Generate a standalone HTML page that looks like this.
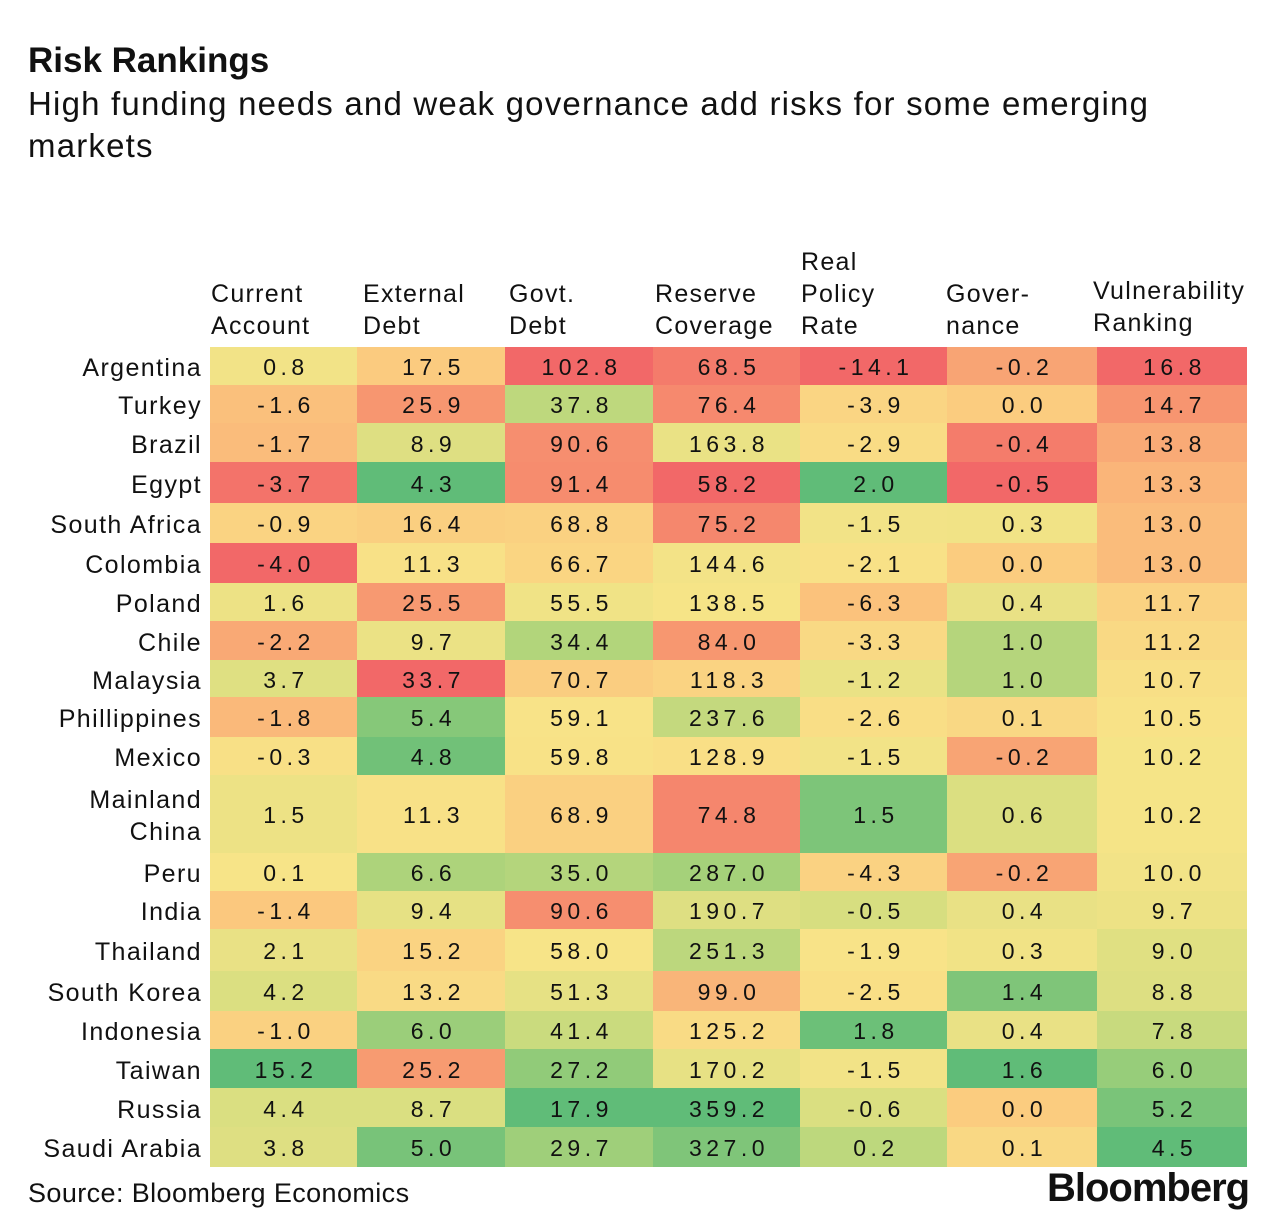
<!DOCTYPE html>
<html><head><meta charset="utf-8"><style>
body{margin:0;background:#fff;width:1279px;height:1228px;position:relative;font-family:"Liberation Sans",sans-serif;color:#111;overflow:hidden}
.t{position:absolute;white-space:nowrap}
.cell{position:absolute;display:flex;align-items:center;justify-content:center;font-size:23px;letter-spacing:4.5px;padding-top:3px;padding-left:5px;box-sizing:border-box}
.rl{position:absolute;right:1077px;text-align:right;font-size:25px;line-height:32px;letter-spacing:1.4px;display:flex;align-items:center;justify-content:flex-end}
.ch{position:absolute;font-size:25px;line-height:32px;letter-spacing:1.3px}
</style></head><body>
<div class="t" style="left:28px;top:41px;font-size:35px;font-weight:bold">Risk Rankings</div>
<div class="t" style="left:28px;top:83px;font-size:33px;line-height:42px;letter-spacing:1.2px;white-space:normal;width:1170px">High funding needs and weak governance add risks for some emerging markets</div>
<div id="tbl"></div>
<div class="t" style="left:28px;top:1178px;font-size:27px;letter-spacing:0.4px">Source: Bloomberg Economics</div>
<div class="t" style="left:1047px;top:1166px;font-size:40px;font-weight:bold;letter-spacing:-1px">Bloomberg</div>
<script>
const countries=["Argentina","Turkey","Brazil","Egypt","South Africa","Colombia","Poland","Chile","Malaysia","Phillippines","Mexico","Mainland China","Peru","India","Thailand","South Korea","Indonesia","Taiwan","Russia","Saudi Arabia"];
const columns=["Current Account","External Debt","Govt. Debt","Reserve Coverage","Real Policy Rate","Governance","Vulnerability Ranking"];
const currentAccount=[0.8,-1.6,-1.7,-3.7,-0.9,-4.0,1.6,-2.2,3.7,-1.8,-0.3,1.5,0.1,-1.4,2.1,4.2,-1.0,15.2,4.4,3.8];
const externalDebt=[17.5,25.9,8.9,4.3,16.4,11.3,25.5,9.7,33.7,5.4,4.8,11.3,6.6,9.4,15.2,13.2,6.0,25.2,8.7,5.0];
const govtDebt=[102.8,37.8,90.6,91.4,68.8,66.7,55.5,34.4,70.7,59.1,59.8,68.9,35.0,90.6,58.0,51.3,41.4,27.2,17.9,29.7];
const reserveCoverage=[68.5,76.4,163.8,58.2,75.2,144.6,138.5,84.0,118.3,237.6,128.9,74.8,287.0,190.7,251.3,99.0,125.2,170.2,359.2,327.0];
const realPolicyRate=[-14.1,-3.9,-2.9,2.0,-1.5,-2.1,-6.3,-3.3,-1.2,-2.6,-1.5,1.5,-4.3,-0.5,-1.9,-2.5,1.8,-1.5,-0.6,0.2];
const governance=[-0.2,0.0,-0.4,-0.5,0.3,0.0,0.4,1.0,1.0,0.1,-0.2,0.6,-0.2,0.4,0.3,1.4,0.4,1.6,0.0,0.1];
const vulnerability=[16.8,14.7,13.8,13.3,13.0,13.0,11.7,11.2,10.7,10.5,10.2,10.2,10.0,9.7,9.0,8.8,7.8,6.0,5.2,4.5];
const series=[currentAccount,externalDebt,govtDebt,reserveCoverage,realPolicyRate,governance,vulnerability];
const highIsBad=[false,true,true,false,false,false,true];
const colX=[210,357,505,653,800,947,1097,1247];
const rowY=[347,385,423,462,503,543,583,621,660,697,737,775,853,891,929,971,1011,1049,1088,1127,1167];
const stops=[[242,104,104],[247,150,112],[251,200,126],[248,228,136],[214,222,128],[168,210,122],[96,188,120]];
function colorFor(vals,i,bad){
  const s=[...vals].sort((a,b)=>a-b);
  const n=s.length,med=(s[(n-1)>>1]+s[n>>1])/2,mn=s[0],mx=s[n-1];
  const v=vals[i];
  let t=v>=med?(v-med)/((mx-med)||1):-(med-v)/((med-mn)||1);
  if(bad)t=-t;
  const p=3+3*t,k=Math.max(0,Math.min(stops.length-2,Math.floor(p))),f=p-k;
  const c=stops[k].map((a,j)=>Math.round(a+(stops[k+1][j]-a)*f));
  return `rgb(${c})`;
}
const tbl=document.getElementById('tbl');
const hdr=[["Current","Account"],["External","Debt"],["Govt.","Debt"],["Reserve","Coverage"],["Real","Policy","Rate"],["Gover-","nance"],["Vulnerability","Ranking"]];
const hdrX=[211,363,509,655,801,946,1093];
hdr.forEach((lines,c)=>{
  const d=document.createElement('div');d.className='ch';
  
  
  d.style.left=hdrX[c]+'px';d.style.top=(c===6?275:342-lines.length*32)+'px';
  d.innerHTML=lines.join('<br>');tbl.appendChild(d);
});
countries.forEach((name,r)=>{
  const l=document.createElement('div');l.className='rl';
  
  
  l.style.top=(rowY[r]+2)+'px';l.style.height=(rowY[r+1]-rowY[r])+'px';
  l.innerHTML=name==="Mainland China"?"Mainland<br>China":name;
  tbl.appendChild(l);
  series.forEach((vals,c)=>{
    const d=document.createElement('div');d.className='cell';
    
    
    d.style.left=colX[c]+'px';d.style.width=(colX[c+1]-colX[c])+'px';
    d.style.top=rowY[r]+'px';d.style.height=(rowY[r+1]-rowY[r])+'px';
    d.style.background=colorFor(vals,r,highIsBad[c]);
    d.textContent=vals[r].toFixed(1);
    tbl.appendChild(d);
  });
});
</script>
</body></html>
